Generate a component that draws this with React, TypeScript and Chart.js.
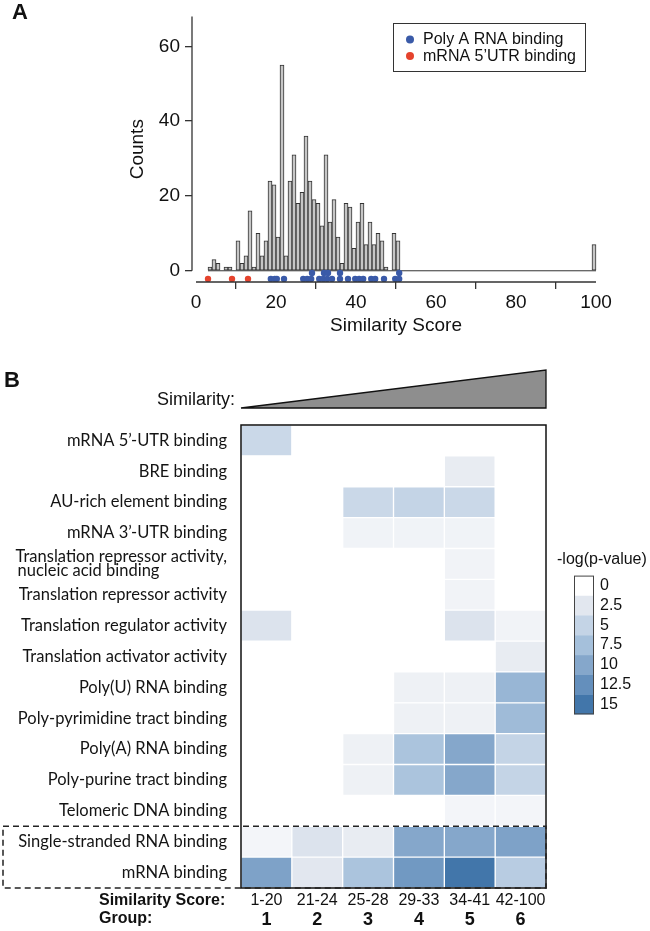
import React, { useEffect, useRef } from "react";
import { Chart, registerables } from "chart.js";

Chart.register(...registerables);

const SANS = "'Liberation Sans', Arial, Helvetica, sans-serif";
const NARROW = "'Liberation Sans Narrow', 'Liberation Sans', Arial, sans-serif";
const HUMANIST = "Lato, 'Open Sans', 'DejaVu Sans', sans-serif";
const ROW_FONT_SIZE = 16.5;

// ---------- Panel A data ----------
const histBinStarts = [3, 4, 5, 7, 8, 10, 11, 12, 13, 14, 15, 16, 17, 18, 19, 20, 21, 22, 23, 24, 25, 26, 27, 28, 29, 30, 31, 32, 33, 34, 35, 36, 37, 38, 39, 40, 41, 42, 43, 44, 45, 46, 47, 49, 50, 99];
const histCounts = [1, 3, 2, 1, 1, 8, 2, 4, 16, 1, 10, 4, 8, 24, 23, 9, 55, 4, 24, 31, 18, 21, 36, 24, 19, 18, 12, 31, 13, 19, 9, 2, 18, 17, 6, 13, 18, 7, 13, 7, 10, 8, 1, 10, 8, 7];
const polyAScoresRow1 = [18.7, 19.7, 20.2, 22, 26.8, 27.8, 28.8, 30.8, 31.8, 32.8, 34, 36, 38, 39.8, 40.8, 41.8, 43.8, 44.8, 47, 49.8, 50.8];
const polyAScoresRow2 = [29, 32, 33, 36, 50.8];
const utr5Scores = [3, 9, 13];
const xTicksA = [0, 20, 40, 60, 80, 100];
const yTicksA = [0, 20, 40, 60];

// ---------- Panel B data ----------
const rowLabels: (string | string[])[] = [
  "mRNA 5\u2019-UTR binding",
  "BRE binding",
  "AU-rich element binding",
  "mRNA 3\u2019-UTR binding",
  ["Translation repressor activity,", "nucleic acid binding"],
  "Translation repressor activity",
  "Translation regulator activity",
  "Translation activator activity",
  "Poly(U) RNA binding",
  "Poly-pyrimidine tract binding",
  "Poly(A) RNA binding",
  "Poly-purine tract binding",
  "Telomeric DNA binding",
  "Single-stranded RNA binding",
  "mRNA binding",
];
const groupRanges = ["1-20", "21-24", "25-28", "29-33", "34-41", "42-100"];
const groupNumbers = ["1", "2", "3", "4", "5", "6"];
const group1 = [4.5, 0, 0, 0, 0, 0, 3, 0, 0, 0, 0, 0, 0, 1, 10.5];
const group2 = [0, 0, 0, 0, 0, 0, 0, 0, 0, 0, 0, 0, 0, 3, 2.5];
const group3 = [0, 0, 4.5, 1.3, 0, 0, 0, 0, 0, 0, 1.5, 1.5, 0, 2, 7];
const group4 = [0, 0, 5, 1.3, 0, 0, 0, 0, 1.5, 1.5, 7, 7, 0, 10, 11.5];
const group5 = [0, 2, 4.5, 1.3, 1.2, 1.2, 3, 0, 1.5, 1.5, 10, 10, 1, 10, 15];
const group6 = [0, 0, 0, 0, 0, 0, 1.2, 2, 8.5, 8, 5, 5, 1, 10.5, 6];
const groupValues = [group1, group2, group3, group4, group5, group6];

const cbTicks = [0, 2.5, 5, 7.5, 10, 12.5, 15];
const cbLabels = ["0", "2.5", "5", "7.5", "10", "12.5", "15"];
const cbColors = ["#ffffff", "#e2e7ef", "#c4d4e6", "#a5c0db", "#85a7cb", "#648fbc", "#4276aa"];

function hexToRgb(h: string) {
  const n = parseInt(h.slice(1), 16);
  return [(n >> 16) & 255, (n >> 8) & 255, n & 255];
}
function colorFor(v: number) {
  if (v <= cbTicks[0]) return cbColors[0];
  for (let i = 1; i < cbTicks.length; i++) {
    if (v <= cbTicks[i]) {
      const t = (v - cbTicks[i - 1]) / (cbTicks[i] - cbTicks[i - 1]);
      const a = hexToRgb(cbColors[i - 1]);
      const b = hexToRgb(cbColors[i]);
      const c = a.map((x, k) => Math.round(x + (b[k] - x) * t));
      return `rgb(${c[0]},${c[1]},${c[2]})`;
    }
  }
  return cbColors[cbColors.length - 1];
}

// ---------- plugins ----------
const axesAPlugin = {
  id: "axesA",
  afterDraw(chart: any) {
    const { ctx, chartArea, scales } = chart;
    const x = scales.x;
    const y = scales.y;
    ctx.save();
    ctx.strokeStyle = "#333";
    ctx.lineWidth = 1.3;
    ctx.beginPath();
    ctx.moveTo(chartArea.left, y.getPixelForValue(0));
    ctx.lineTo(chartArea.left, chartArea.top);
    ctx.moveTo(x.getPixelForValue(0), chartArea.bottom);
    ctx.lineTo(x.getPixelForValue(100), chartArea.bottom);
    ctx.stroke();
    ctx.restore();
  },
};

const legendBoxPlugin = {
  id: "legendBox",
  afterDraw(chart: any) {
    const { ctx } = chart;
    const items = chart.data.datasets.filter((d: any) => d.showInLegend);
    const bx = 393, by = 23, bw = 192, bh = 48;
    ctx.save();
    ctx.fillStyle = "#fff";
    ctx.fillRect(bx, by, bw, bh);
    ctx.strokeStyle = "#333";
    ctx.lineWidth = 1;
    ctx.strokeRect(bx + 0.5, by + 0.5, bw, bh);
    ctx.font = `16px ${NARROW}`;
    ctx.textBaseline = "middle";
    items.forEach((d: any, i: number) => {
      const cy = by + 16.5 + i * 16.5;
      ctx.beginPath();
      ctx.arc(bx + 17, cy, 4, 0, Math.PI * 2);
      ctx.fillStyle = d.backgroundColor;
      ctx.fill();
      ctx.fillStyle = "#111";
      ctx.fillText(d.label, bx + 30, cy + 0.5);
    });
    ctx.restore();
  },
};

const heatFramePlugin = {
  id: "heatFrame",
  afterDraw(chart: any) {
    const { ctx, chartArea, scales } = chart;
    const y = scales.y;
    ctx.save();
    // triangle
    ctx.beginPath();
    ctx.moveTo(chartArea.left, chartArea.top - 17);
    ctx.lineTo(chartArea.right, chartArea.top - 55);
    ctx.lineTo(chartArea.right, chartArea.top - 17);
    ctx.closePath();
    ctx.fillStyle = "#8e8e8e";
    ctx.fill();
    ctx.strokeStyle = "#111";
    ctx.lineWidth = 1.3;
    ctx.stroke();
    // frame
    ctx.lineWidth = 1.5;
    ctx.strokeStyle = "#111";
    ctx.strokeRect(chartArea.left, chartArea.top, chartArea.right - chartArea.left, chartArea.bottom - chartArea.top);
    // dashed box around last two rows
    const half = (y.getPixelForValue(1) - y.getPixelForValue(0)) / 2;
    const top = y.getPixelForValue(13) - half;
    const bottom = y.getPixelForValue(14) + half;
    ctx.setLineDash([6, 4]);
    ctx.lineWidth = 1.5;
    ctx.strokeStyle = "#222";
    ctx.strokeRect(3, top, chartArea.right - 3, bottom - top);
    ctx.restore();
  },
};

const cbFramePlugin = {
  id: "cbFrame",
  afterDraw(chart: any) {
    const { ctx, chartArea } = chart;
    ctx.save();
    ctx.strokeStyle = "#444";
    ctx.lineWidth = 1;
    ctx.strokeRect(chartArea.left + 0.5, chartArea.top + 0.5, chartArea.right - chartArea.left - 1, chartArea.bottom - chartArea.top - 1);
    ctx.restore();
  },
};

function makeHistogram(canvas: HTMLCanvasElement) {
  const polyAPoints = [
    ...polyAScoresRow1.map((x) => ({ x, y: -2.2 })),
    ...polyAScoresRow2.map((x) => ({ x, y: -0.6 })),
  ];
  return new Chart(canvas, {
    type: "bar",
    data: {
      datasets: [
        {
          type: "scatter",
          label: "Poly A RNA binding",
          data: polyAPoints,
          backgroundColor: "#3a5aa8",
          borderWidth: 0,
          pointRadius: 3.2,
          showInLegend: true,
          order: 0,
        } as any,
        {
          type: "scatter",
          label: "mRNA 5\u2019UTR binding",
          data: utr5Scores.map((x) => ({ x, y: -2.2 })),
          backgroundColor: "#e5432d",
          borderWidth: 0,
          pointRadius: 3.2,
          showInLegend: true,
          order: 1,
        } as any,
        {
          type: "line",
          label: "baseline",
          data: [
            { x: histBinStarts[0], y: 0 },
            { x: 100, y: 0 },
          ],
          borderColor: "#333",
          borderWidth: 1,
          pointRadius: 0,
          order: 2,
        } as any,
        {
          type: "bar",
          label: "Counts",
          data: histBinStarts.map((b, i) => ({ x: b + 0.5, y: histCounts[i] })),
          backgroundColor: "#c6c6c6",
          borderColor: "#333",
          borderWidth: 1,
          borderSkipped: false,
          barPercentage: 1,
          categoryPercentage: 1,
          order: 3,
        } as any,
      ],
    },
    options: {
      responsive: false,
      animation: false,
      events: [],
      layout: { padding: { top: 2, right: 50, left: 0, bottom: 0 } },
      plugins: { legend: { display: false }, tooltip: { enabled: false } },
      scales: {
        x: {
          type: "linear",
          offset: false,
          min: -1,
          max: 101,
          afterBuildTicks: (s: any) => {
            s.ticks = xTicksA.map((v) => ({ value: v }));
          },
          afterFit: (s: any) => {
            s.height = 63;
          },
          grid: { display: true, drawOnChartArea: false, drawTicks: true, tickLength: 7, color: "#333", lineWidth: 1.3 },
          border: { display: false },
          ticks: { font: { family: SANS, size: 19 }, color: "#111", padding: 2, maxRotation: 0, autoSkip: false },
          title: {
            display: true,
            text: "Similarity Score",
            font: { family: SANS, size: 19 },
            color: "#111",
            padding: { top: 0, bottom: 7.6 },
          },
        },
        y: {
          type: "linear",
          min: -3,
          max: 68,
          afterBuildTicks: (s: any) => {
            s.ticks = yTicksA.map((v) => ({ value: v }));
          },
          afterFit: (s: any) => {
            s.width = 192;
          },
          grid: { display: true, drawOnChartArea: false, drawTicks: true, tickLength: 7, color: "#333", lineWidth: 1.3 },
          border: { display: false },
          ticks: { font: { family: SANS, size: 19 }, color: "#111", padding: 5, autoSkip: false },
          title: {
            display: true,
            text: "Counts",
            font: { family: SANS, size: 19 },
            color: "#111",
            padding: { top: 126.6, bottom: 0 },
          },
        },
      },
    } as any,
    plugins: [axesAPlugin, legendBoxPlugin],
  });
}

function makeHeatmap(canvas: HTMLCanvasElement) {
  return new Chart(canvas, {
    type: "bar",
    data: {
      labels: rowLabels.map((l) => (Array.isArray(l) ? l.join(" ") : l)),
      datasets: groupValues.map((vals, gi) => ({
        label: groupRanges[gi],
        data: vals.map(() => [gi, gi + 1]),
        backgroundColor: vals.map(colorFor),
        borderColor: "rgba(255,255,255,0.55)",
        borderWidth: 1,
        borderSkipped: false,
        barPercentage: 1,
        categoryPercentage: 1,
        grouped: false,
      })) as any,
    },
    options: {
      indexAxis: "y",
      responsive: false,
      animation: false,
      events: [],
      layout: { padding: { top: 85, right: 104, left: 0, bottom: 0 } },
      plugins: { legend: { display: false }, tooltip: { enabled: false } },
      scales: {
        y: {
          type: "category",
          afterFit: (s: any) => {
            s.width = 241;
          },
          grid: { display: false, drawTicks: false },
          border: { display: false },
          ticks: {
            autoSkip: false,
            padding: 14,
            color: "#141414",
            font: { family: HUMANIST, size: ROW_FONT_SIZE, lineHeight: 0.87 },
            callback: function (this: any, value: any) {
              const lab = rowLabels[value];
              if (!Array.isArray(lab)) return lab;
              const ctx = this.ctx;
              ctx.save();
              ctx.font = `${ROW_FONT_SIZE}px ${HUMANIST}`;
              const w0 = ctx.measureText(lab[0]).width;
              const sp = ctx.measureText(" ").width || 4;
              const out = lab.map((l: string) => {
                const n = Math.max(0, Math.round((w0 - ctx.measureText(l).width) / sp));
                return l + " ".repeat(n);
              });
              ctx.restore();
              return out;
            },
          },
        },
        x: {
          type: "linear",
          position: "bottom",
          weight: 0,
          min: 0,
          max: 6,
          afterBuildTicks: (s: any) => {
            s.ticks = groupRanges.map((_, i) => ({ value: i + 0.5 }));
          },
          afterFit: (s: any) => {
            s.height = 21;
          },
          grid: { display: false, drawTicks: false },
          border: { display: false },
          ticks: {
            autoSkip: false,
            maxRotation: 0,
            padding: 3,
            color: "#111",
            font: { family: SANS, size: 16 },
            callback: (v: any) => groupRanges[Math.floor(v)],
          },
        },
        x2: {
          type: "linear",
          position: "bottom",
          weight: 1,
          min: 0,
          max: 6,
          afterBuildTicks: (s: any) => {
            s.ticks = groupNumbers.map((_, i) => ({ value: i + 0.5 }));
          },
          afterFit: (s: any) => {
            s.height = 22;
          },
          grid: { display: false, drawTicks: false },
          border: { display: false },
          ticks: {
            autoSkip: false,
            maxRotation: 0,
            padding: 0,
            color: "#111",
            font: { family: SANS, size: 18, weight: "bold" },
            callback: (v: any) => groupNumbers[Math.floor(v)],
          },
        },
      },
    } as any,
    plugins: [heatFramePlugin],
  });
}

function makeColorbar(canvas: HTMLCanvasElement) {
  return new Chart(canvas, {
    type: "bar",
    data: {
      labels: ["-log(p-value)"],
      datasets: cbTicks.map((t, i) => ({
        label: cbLabels[i],
        data: [[i, i + 1]],
        backgroundColor: colorFor(t),
        borderWidth: 0,
        barPercentage: 1,
        categoryPercentage: 1,
        grouped: false,
      })) as any,
    },
    options: {
      responsive: false,
      animation: false,
      events: [],
      layout: { padding: { top: 11, left: 14, bottom: 12, right: 0 } },
      plugins: { legend: { display: false }, tooltip: { enabled: false } },
      scales: {
        x: { display: false },
        y: {
          type: "linear",
          position: "right",
          reverse: true,
          min: 0,
          max: cbTicks.length,
          afterBuildTicks: (s: any) => {
            s.ticks = cbLabels.map((_, i) => ({ value: i + 0.5 }));
          },
          afterFit: (s: any) => {
            s.width = 56;
          },
          grid: { display: false, drawTicks: false },
          border: { display: false },
          ticks: {
            autoSkip: false,
            padding: 6,
            color: "#111",
            font: { family: SANS, size: 16 },
            callback: (v: any) => cbLabels[Math.floor(v)],
          },
        },
      },
    } as any,
    plugins: [cbFramePlugin],
  });
}

export default function App() {
  const refA = useRef<HTMLCanvasElement>(null);
  const refB = useRef<HTMLCanvasElement>(null);
  const refC = useRef<HTMLCanvasElement>(null);

  useEffect(() => {
    const charts: Chart[] = [];
    if (refA.current) charts.push(makeHistogram(refA.current));
    if (refB.current) charts.push(makeHeatmap(refB.current));
    if (refC.current) charts.push(makeColorbar(refC.current));
    return () => charts.forEach((c) => c.destroy());
  }, []);

  const txt = (extra: React.CSSProperties): React.CSSProperties => ({
    position: "absolute",
    fontFamily: SANS,
    color: "#111",
    lineHeight: 1,
    whiteSpace: "nowrap",
    ...extra,
  });

  return (
    <div style={{ position: "absolute", left: 0, top: 0, width: 650, height: 931, background: "#fff", overflow: "hidden" }}>
      <canvas ref={refA} width={650} height={345} style={{ position: "absolute", left: 0, top: 0 }} />
      <canvas ref={refB} width={650} height={591} style={{ position: "absolute", left: 0, top: 340 }} />
      <canvas ref={refC} width={90} height={170} style={{ position: "absolute", left: 560, top: 560 }} />
      <div style={txt({ left: 12, top: 1, fontSize: 22, fontWeight: "bold" })}>A</div>
      <div style={txt({ left: 4, top: 369, fontSize: 22, fontWeight: "bold" })}>B</div>
      <div style={txt({ right: 415, top: 390, fontSize: 18, textAlign: "right" })}>Similarity:</div>
      <div style={txt({ left: 557, top: 551, fontSize: 16 })}>-log(p-value)</div>
      <div style={txt({ left: 99, top: 892, fontSize: 16, fontWeight: "bold" })}>Similarity Score:</div>
      <div style={txt({ left: 99, top: 910, fontSize: 16, fontWeight: "bold" })}>Group:</div>
    </div>
  );
}
